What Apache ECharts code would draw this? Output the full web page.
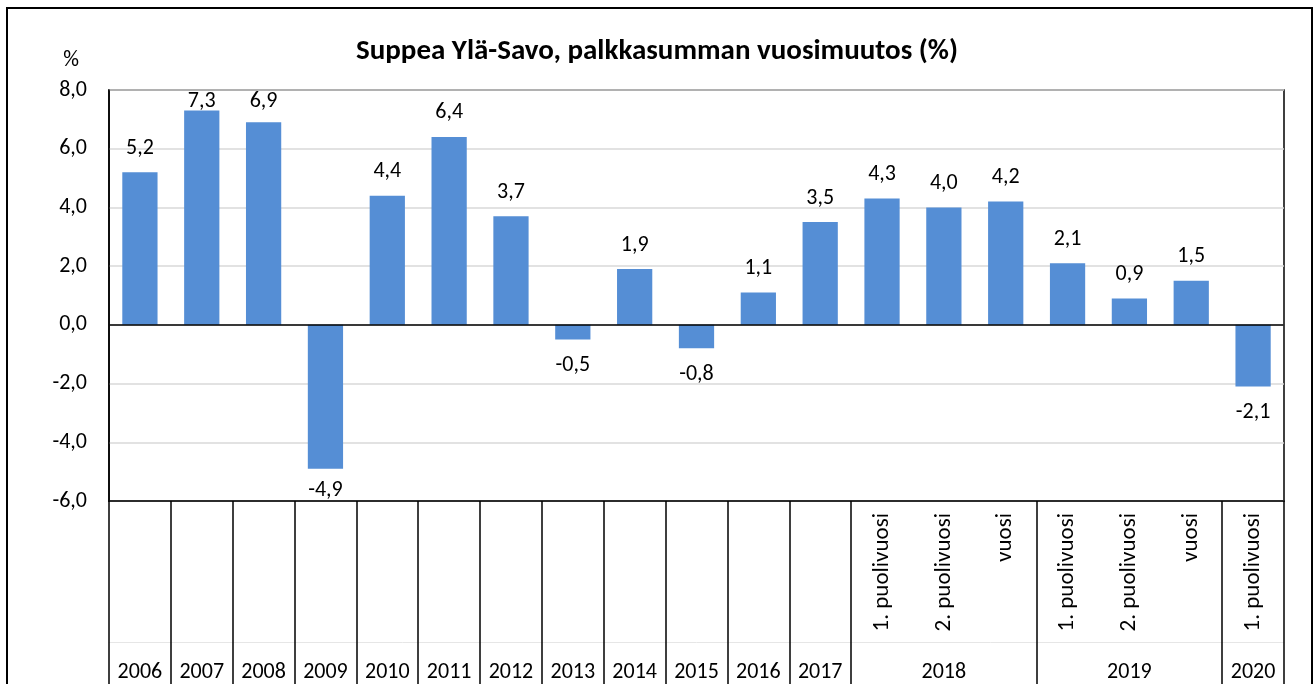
<!DOCTYPE html>
<html>
<head>
<meta charset="utf-8">
<script src="https://cdn.jsdelivr.net/npm/echarts@6/dist/echarts.min.js"></script>
<style>
  html, body { margin: 0; padding: 0; background: #fff; }
  #chart { width: 1314px; height: 684px; }
</style>
</head>
<body>
<div id="chart"></div>
<script>
var FONT = 'Carlito, Lato, sans-serif';

// sub-period labels (rotated) and the year row below them
var periods = ['', '', '', '', '', '', '', '', '', '', '', '',
    '1. puolivuosi', '2. puolivuosi', 'vuosi',
    '1. puolivuosi', '2. puolivuosi', 'vuosi',
    '1. puolivuosi'];
var years = ['2006', '2007', '2008', '2009', '2010', '2011', '2012', '2013', '2014', '2015', '2016', '2017',
    '', '2018', '', '', '2019', '', '2020'];
var values = [5.2, 7.3, 6.9, -4.9, 4.4, 6.4, 3.7, -0.5, 1.9, -0.8, 1.1, 3.5,
    4.3, 4.0, 4.2, 2.1, 0.9, 1.5, -2.1];
// category boundaries that get a separator line
var separators = [0, 1, 2, 3, 4, 5, 6, 7, 8, 9, 10, 11, 12, 15, 18, 19];

var Y_MIN = -6, Y_MAX = 8;
var PLOT_H = 684 - 90 - 183;
var PX = PLOT_H / (Y_MAX - Y_MIN);

function fmt(v) {
    return v.toFixed(1).replace('.', ',');
}

// keep value labels inside the plot box, like the original does
function labelFor(v) {
    if (v < 0) {
        return { position: 'bottom', distance: Math.min(15, (v - Y_MIN) * PX - 22) };
    }
    return { position: 'top', distance: Math.min(13, (Y_MAX - v) * PX - 22) };
}

var chart = echarts.init(document.getElementById('chart'));
chart.setOption({
    backgroundColor: '#fff',
    animation: false,
    title: {
        text: 'Suppea Ylä-Savo, palkkasumman vuosimuutos (%)',
        left: 'center',
        top: 32,
        textStyle: { fontFamily: FONT, fontSize: 29, fontWeight: 'bold', color: '#000' }
    },
    graphic: [{
        type: 'rect',
        shape: { x: 7, y: 8, width: 1305, height: 700 },
        style: { fill: 'none', stroke: '#000', lineWidth: 2 },
        silent: true
    }],
    grid: {
        left: 109, right: 30, top: 90, bottom: 183,
        show: true, borderColor: '#000', borderWidth: 1.5
    },
    xAxis: [{
        type: 'category',
        data: periods,
        position: 'bottom',
        axisLine: { onZero: false, lineStyle: { color: '#000', width: 1.5 } },
        axisTick: {
            show: true,
            length: 183,
            interval: function (idx) { return separators.indexOf(idx) >= 0; },
            lineStyle: { color: '#000', width: 1.5 }
        },
        axisLabel: {
            interval: 0, rotate: 90, margin: 12,
            fontFamily: FONT, fontSize: 23, color: '#000'
        }
    }, {
        type: 'category',
        data: years,
        position: 'bottom',
        offset: 141,
        axisLine: { onZero: false, lineStyle: { color: '#e6e6e6', width: 1 } },
        axisTick: { show: false },
        axisLabel: {
            interval: 0, margin: 19,
            fontFamily: FONT, fontSize: 22, color: '#000'
        }
    }],
    yAxis: {
        type: 'value',
        min: Y_MIN, max: Y_MAX, interval: 2,
        name: '%',
        nameGap: 19,
        nameTextStyle: { fontFamily: FONT, fontSize: 22, color: '#000', align: 'right', padding: [0, 30, 0, 0] },
        axisLine: { show: true, lineStyle: { color: '#000', width: 1.5 } },
        axisTick: { show: false },
        axisLabel: {
            margin: 22,
            align: 'right',
            fontFamily: FONT, fontSize: 22, color: '#000',
            formatter: fmt
        },
        splitLine: { lineStyle: { color: '#d9d9d9', width: 1.5 } }
    },
    series: [{
        type: 'bar',
        barWidth: '57%',
        itemStyle: { color: '#558ed5' },
        data: values.map(function (v) {
            return { value: v, label: labelFor(v) };
        }),
        label: {
            show: true,
            fontFamily: FONT, fontSize: 22, color: '#000',
            formatter: function (p) { return fmt(p.value); }
        },
        markLine: {
            silent: true,
            symbol: 'none',
            label: { show: false },
            lineStyle: { color: '#000', width: 1.5, type: 'solid' },
            data: [{ yAxis: 0 }]
        }
    }]
});
</script>
</body>
</html>
